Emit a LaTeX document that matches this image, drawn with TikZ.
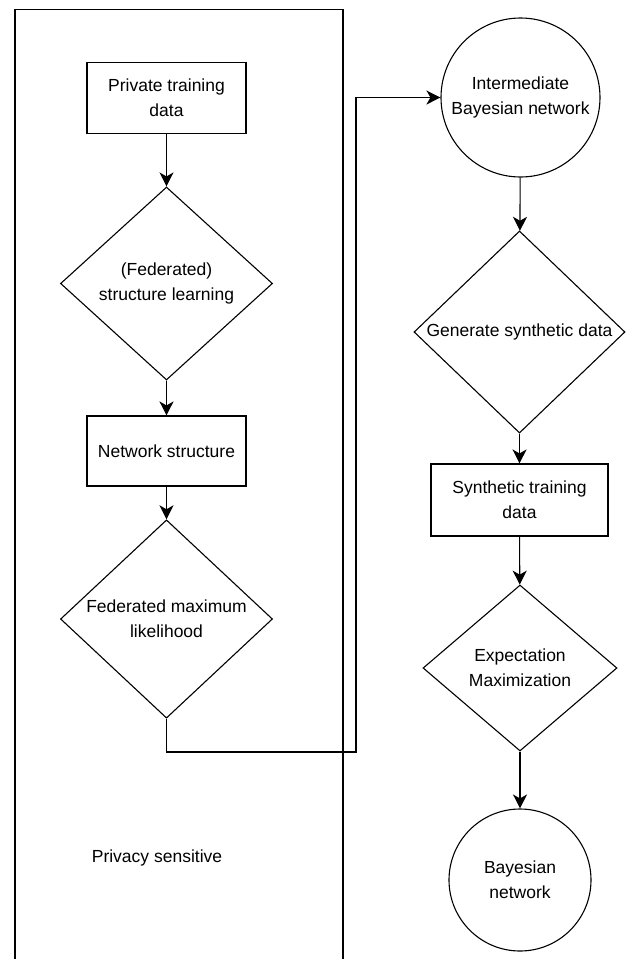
\documentclass[tikz,border=0pt]{standalone}
\usepackage{fontspec}
\setmainfont{Liberation Sans}
\usetikzlibrary{shapes.geometric,arrows.meta}
\begin{document}
\begin{tikzpicture}[x=1pt,y=-1pt,
  every node/.style={font=\fontsize{17.5}{25}\selectfont, align=center, inner sep=0pt},
  boxnode/.style={draw, line width=1.1pt, rectangle},
  decision/.style={draw, line width=1.1pt, diamond},
  roundnode/.style={draw, line width=1.1pt, circle},
  flow/.style={line width=1.1pt, -{Stealth[length=14pt,width=14pt,inset=4pt]}},
  plain/.style={line width=1.1pt}]
\useasboundingbox (0,0) rectangle (628,959);
\clip (0,0) rectangle (628,959);
% privacy-sensitive region
\draw[plain] (15,9.5) rectangle (343,975);
\node (ps) at (157,858) {Privacy sensitive};
% left column
\node[boxnode, minimum width=159pt, minimum height=71pt] (ptd) at (166.5,98) {Private training\\data};
\node[decision, minimum width=212pt, minimum height=193pt] (fsl) at (166.5,283.5) {(Federated)\\structure learning};
\node[boxnode, minimum width=159pt, minimum height=70pt] (ns) at (166.5,451) {Network structure};
\node[decision, minimum width=212pt, minimum height=194pt] (fml) at (166.5,619) {Federated maximum\\likelihood};
% right column
\node[roundnode, minimum size=159pt] (ibn) at (520.5,97.5) {Intermediate\\Bayesian network};
\node[decision, minimum width=211pt, minimum height=186pt] (gsd) at (519.5,332) {Generate synthetic data};
\node[boxnode, minimum width=177pt, minimum height=72pt] (std) at (519.5,500) {Synthetic training\\data};
\node[decision, minimum width=194pt, minimum height=166pt] (em) at (520,668) {Expectation\\Maximization};
\node[roundnode, minimum size=142pt] (bn) at (520,880) {Bayesian\\network};
% connectors
\draw[flow] (ptd) -- (fsl);
\draw[flow] (fsl) -- (ns);
\draw[flow] (ns) -- (fml);
\coordinate (bend) at (356,752);
\draw[flow] (fml.south) |- (bend) |- (ibn.west);
\draw[flow] (ibn) -- (gsd);
\draw[flow] (gsd) -- (std);
\draw[flow] (std) -- (em);
\draw[flow] (em) -- (bn);
\end{tikzpicture}
\end{document}
